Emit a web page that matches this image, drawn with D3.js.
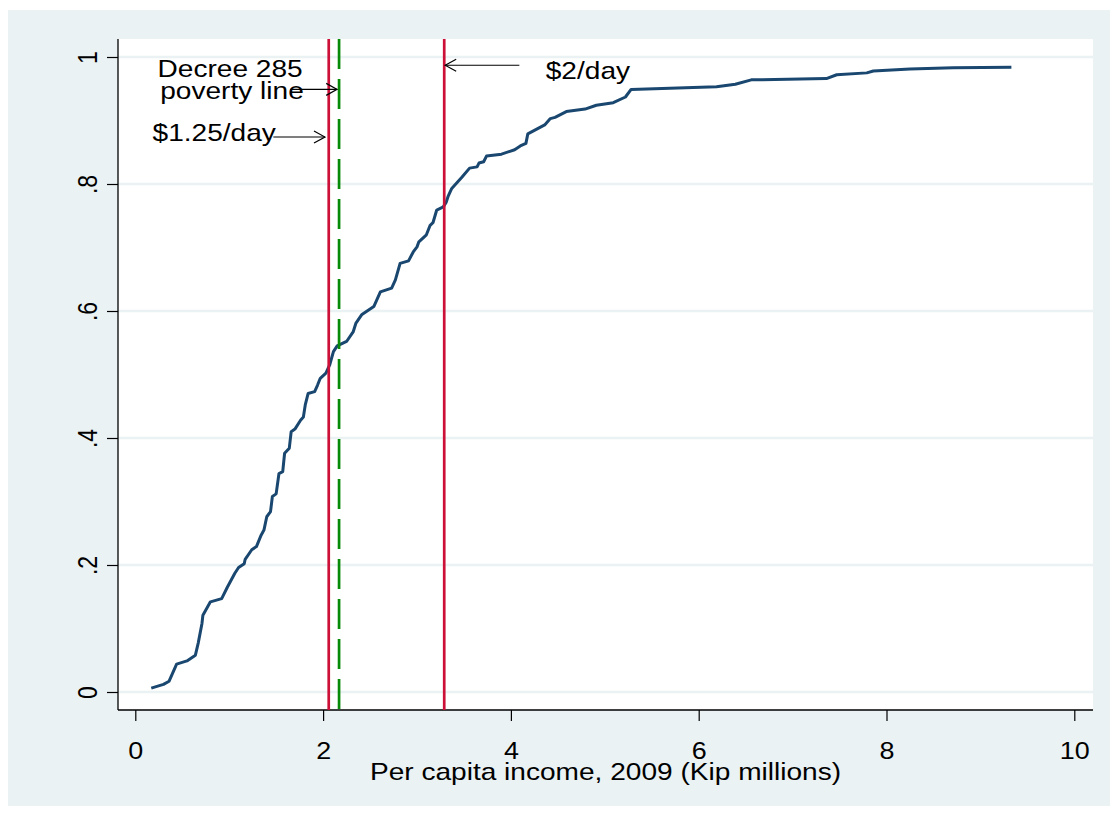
<!DOCTYPE html>
<html>
<head>
<meta charset="utf-8">
<script src="https://cdn.jsdelivr.net/npm/d3@7"></script>
<style>
  body { margin: 0; background: #ffffff; }
  svg text { font-family: "Liberation Sans", Arial, sans-serif; fill: #000; }
</style>
</head>
<body>
<div id="chart"></div>
<script>
// cumulative distribution of per capita income (Kip millions)
var incomeValues = [0.17, 0.30, 0.36, 0.44, 0.55, 0.64, 0.67, 0.71, 0.72, 0.80, 0.92, 0.98, 1.06, 1.10, 1.16, 1.17,
  1.24, 1.29, 1.34, 1.37, 1.40, 1.44, 1.46, 1.50, 1.53, 1.57, 1.59, 1.64, 1.66, 1.70, 1.76, 1.79, 1.81, 1.84,
  1.91, 1.94, 1.97, 2.03, 2.07, 2.11, 2.15, 2.25, 2.32, 2.35, 2.41, 2.54, 2.61, 2.73, 2.77, 2.82, 2.91, 2.96,
  3.00, 3.02, 3.10, 3.14, 3.17, 3.21, 3.28, 3.31, 3.33, 3.37, 3.48, 3.56, 3.64, 3.66, 3.71, 3.74, 3.90, 4.04,
  4.10, 4.16, 4.18, 4.36, 4.42, 4.47, 4.59, 4.79, 4.91, 5.09, 5.22, 5.28, 6.19, 6.39, 6.56, 7.36, 7.47, 7.79,
  7.86, 8.25, 8.71, 9.33];
var cumShare = [0.006, 0.012, 0.017, 0.044, 0.049, 0.058, 0.077, 0.108, 0.121, 0.142, 0.147, 0.165, 0.187, 0.196, 0.202, 0.209,
  0.224, 0.229, 0.247, 0.255, 0.276, 0.284, 0.308, 0.312, 0.344, 0.347, 0.376, 0.384, 0.410, 0.414, 0.428, 0.433, 0.452, 0.470,
  0.473, 0.483, 0.494, 0.502, 0.515, 0.536, 0.545, 0.552, 0.567, 0.581, 0.594, 0.607, 0.630, 0.636, 0.649, 0.675, 0.679, 0.693,
  0.701, 0.709, 0.720, 0.735, 0.739, 0.759, 0.764, 0.771, 0.780, 0.793, 0.811, 0.825, 0.827, 0.833, 0.835, 0.844, 0.847, 0.854,
  0.860, 0.864, 0.879, 0.893, 0.903, 0.905, 0.914, 0.918, 0.924, 0.928, 0.937, 0.949, 0.953, 0.957, 0.964, 0.966, 0.972, 0.975,
  0.978, 0.981, 0.983, 0.984];

var xTicks = [0, 2, 4, 6, 8, 10];
var yTicks = [0, 0.2, 0.4, 0.6, 0.8, 1];
var yTickLabels = ["0", ".2", ".4", ".6", ".8", "1"];

// poverty lines (Kip millions)
var lineValues = [2.06, 2.17, 3.29];
var lineNames = ["$1.25/day", "Decree 285", "$2/day"];

// annotation text and arrows, in data units
var labelTexts = ["Decree 285", "poverty line", "$1.25/day", "$2/day"];
var labelX = [1.01, 1.03, 0.84, 4.82];
var labelY = [0.969, 0.934, 0.867, 0.966];
var arrowFromX = [1.65, 1.47, 4.09];
var arrowToX = [2.15, 2.02, 3.30];
var arrowY = [0.949, 0.874, 0.987];

var xTitle = "Per capita income, 2009 (Kip millions)";

var WIDTH = 1117, HEIGHT = 814;
var STRETCH = 1.17; // text in the source is a bit wide
var PLOT = {left: 118, top: 39, right: 1093, bottom: 710};
var BG = "#eaf2f3";

var svg = d3.select("#chart").append("svg")
  .attr("width", WIDTH)
  .attr("height", HEIGHT);

// outer background
svg.append("rect")
  .attr("x", 8).attr("y", 10)
  .attr("width", 1102).attr("height", 796)
  .attr("fill", BG);

// plot region
svg.append("rect")
  .attr("x", PLOT.left).attr("y", PLOT.top)
  .attr("width", PLOT.right - PLOT.left)
  .attr("height", PLOT.bottom - PLOT.top)
  .attr("fill", "#ffffff");

var x = d3.scaleLinear().domain([0, 10]).range([135.3, 1074.3]);
var y = d3.scaleLinear().domain([0, 1]).range([692, 57]);

// horizontal grid lines
svg.append("g").selectAll("line")
  .data(yTicks)
  .join("line")
  .attr("x1", PLOT.left).attr("x2", PLOT.right)
  .attr("y1", function(d) { return y(d); })
  .attr("y2", function(d) { return y(d); })
  .attr("stroke", BG)
  .attr("stroke-width", 2.5);

// x axis
var xAxis = svg.append("g")
  .attr("transform", "translate(0," + PLOT.bottom + ")")
  .call(d3.axisBottom(x).tickValues(xTicks).tickSize(11).tickSizeOuter(0)
    .tickFormat(d3.format("d")));
xAxis.select(".domain").remove();
xAxis.selectAll(".tick line").attr("stroke", "#000").attr("stroke-width", 1.2);
xAxis.selectAll(".tick text")
  .attr("y", null).attr("dy", null)
  .attr("transform", "translate(0,49) scale(" + STRETCH + ",1)")
  .style("font-size", "23px");

// y axis
var yAxis = svg.append("g")
  .attr("transform", "translate(" + PLOT.left + ",0)")
  .call(d3.axisLeft(y).tickValues(yTicks).tickSize(11).tickSizeOuter(0)
    .tickFormat(function(d, i) { return yTickLabels[i]; }));
yAxis.select(".domain").remove();
yAxis.selectAll(".tick line").attr("stroke", "#000").attr("stroke-width", 1.2);
yAxis.selectAll(".tick text")
  .attr("x", null).attr("dy", null)
  .attr("text-anchor", "middle")
  .attr("transform", "translate(-21,0) rotate(-90) scale(1," + STRETCH + ")")
  .style("font-size", "23px");

// axis lines along plot edges
svg.append("line")
  .attr("x1", PLOT.left).attr("x2", PLOT.left)
  .attr("y1", PLOT.top).attr("y2", PLOT.bottom)
  .attr("stroke", "#000").attr("stroke-width", 1.3);
svg.append("line")
  .attr("x1", PLOT.left).attr("x2", PLOT.right)
  .attr("y1", PLOT.bottom).attr("y2", PLOT.bottom)
  .attr("stroke", "#000").attr("stroke-width", 1.3);

// cdf curve
var points = incomeValues.map(function(v, i) { return [v, cumShare[i]]; });
var line = d3.line()
  .x(function(d) { return x(d[0]); })
  .y(function(d) { return y(d[1]); });
svg.append("path")
  .datum(points)
  .attr("d", line)
  .attr("fill", "none")
  .attr("stroke", "#1a476f")
  .attr("stroke-width", 3)
  .attr("stroke-linejoin", "round");

// vertical poverty lines
svg.append("g").selectAll("line")
  .data(lineValues)
  .join("line")
  .attr("x1", function(d) { return x(d); })
  .attr("x2", function(d) { return x(d); })
  .attr("y1", PLOT.top).attr("y2", PLOT.bottom)
  .attr("stroke", function(d, i) { return lineNames[i] == "Decree 285" ? "#078a07" : "#cc1037"; })
  .attr("stroke-width", 2.7)
  .attr("stroke-dasharray", function(d, i) { return lineNames[i] == "Decree 285" ? "30,10" : null; });

// arrow head marker
svg.append("defs").append("marker")
  .attr("id", "arrowhead")
  .attr("markerUnits", "userSpaceOnUse")
  .attr("viewBox", "-12 -7 13 14")
  .attr("markerWidth", 13).attr("markerHeight", 14)
  .attr("refX", 0).attr("refY", 0)
  .attr("orient", "auto")
  .append("path")
  .attr("d", "M-11,-6L0,0L-11,6")
  .attr("fill", "none")
  .attr("stroke", "#000")
  .attr("stroke-width", 1.2);

// arrows
svg.append("g").selectAll("line")
  .data(arrowY)
  .join("line")
  .attr("x1", function(d, i) { return x(arrowFromX[i]); })
  .attr("x2", function(d, i) { return x(arrowToX[i]); })
  .attr("y1", function(d) { return y(d); })
  .attr("y2", function(d) { return y(d); })
  .attr("stroke", "#000")
  .attr("stroke-width", 1.2)
  .attr("marker-end", "url(#arrowhead)");

// annotation labels
svg.append("g").selectAll("text")
  .data(labelTexts)
  .join("text")
  .attr("text-anchor", "middle")
  .attr("transform", function(d, i) {
    return "translate(" + x(labelX[i]) + "," + y(labelY[i]) + ") scale(" + STRETCH + ",1)";
  })
  .style("font-size", "24px")
  .text(function(d) { return d; });

// x axis title
svg.append("text")
  .attr("text-anchor", "middle")
  .attr("transform", "translate(" + ((PLOT.left + PLOT.right) / 2) + ",780) scale(" + STRETCH + ",1)")
  .style("font-size", "24px")
  .text(xTitle);
</script>
</body>
</html>
